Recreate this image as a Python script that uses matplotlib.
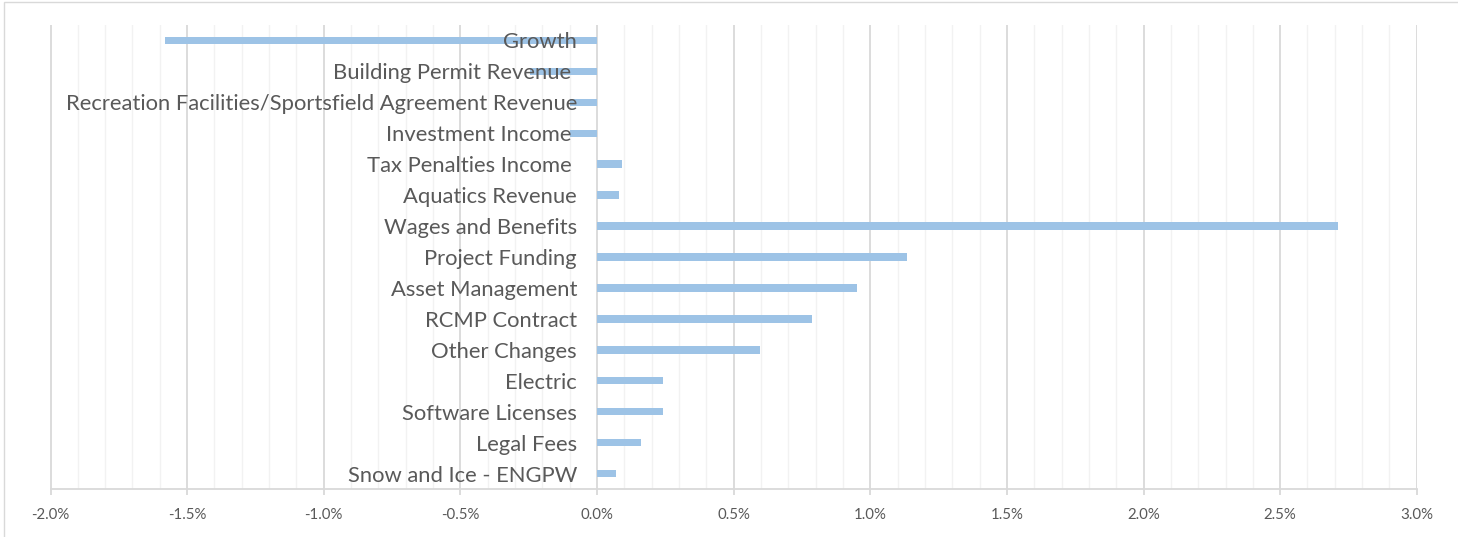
import matplotlib.pyplot as plt
import matplotlib.transforms as mtransforms
from matplotlib.patches import Rectangle
from matplotlib.ticker import MultipleLocator, FuncFormatter

categories = [
    "Growth",
    "Building Permit Revenue ",
    "Recreation Facilities/Sportsfield Agreement Revenue",
    "Investment Income ",
    "Tax Penalties Income ",
    "Aquatics Revenue",
    "Wages and Benefits",
    "Project Funding",
    "Asset Management",
    "RCMP Contract",
    "Other Changes",
    "Electric",
    "Software Licenses",
    "Legal Fees",
    "Snow and Ice - ENGPW",
]
values = [-1.58, -0.245, -0.10, -0.10, 0.092, 0.080, 2.71, 1.134, 0.952,
          0.788, 0.598, 0.243, 0.24, 0.161, 0.068]

BAR = "#9dc3e6"
TXT = "#595959"

plt.rcParams['font.family'] = ['Lato', 'DejaVu Sans']

fig = plt.figure(figsize=(14.58, 5.37), dpi=100)
ax = fig.add_axes([50.5 / 1458, 48 / 537, (1416.8 - 50.5) / 1458, (489 - 25) / 537])

ypos = list(range(len(categories)))
ax.barh(ypos, values, height=0.24, color=BAR, zorder=2)
ax.set_ylim(len(categories) - 0.5, -0.5)
ax.set_xlim(-2.0, 3.0)

ax.xaxis.set_major_locator(MultipleLocator(0.5))
ax.xaxis.set_minor_locator(MultipleLocator(0.1))
ax.xaxis.set_major_formatter(FuncFormatter(lambda v, p: f"{v:.1f}%"))
ax.grid(which='major', axis='x', color="#d9d9d9", linewidth=1.3, zorder=0)
ax.grid(which='minor', axis='x', color="#f2f2f2", linewidth=1.0, zorder=0)
ax.set_axisbelow(True)
ax.set_yticks([])

for s in ['top', 'right', 'left']:
    ax.spines[s].set_visible(False)
ax.spines['bottom'].set_color("#d9d9d9")
ax.spines['bottom'].set_linewidth(1.3)
ax.tick_params(axis='x', which='major', length=4, width=1.3, color="#d9d9d9",
               labelcolor=TXT, labelsize=10.8, pad=10)
ax.tick_params(axis='x', which='minor', length=0)

# category labels sit just left of the zero line, over the bars
off = mtransforms.offset_copy(ax.transData, fig=fig, x=-20, y=-2, units='dots')
for y, name in zip(ypos, categories):
    ax.text(0, y, name, transform=off, ha='right', va='center',
            fontsize=15.8, color=TXT, zorder=3)

fig.patches.append(Rectangle((4 / 1458, -0.05), 1.2, 1.05 - 1.5 / 537,
                             transform=fig.transFigure, fill=False,
                             edgecolor="#d9d9d9", linewidth=1.0))

fig.savefig("out.png", dpi=100)
